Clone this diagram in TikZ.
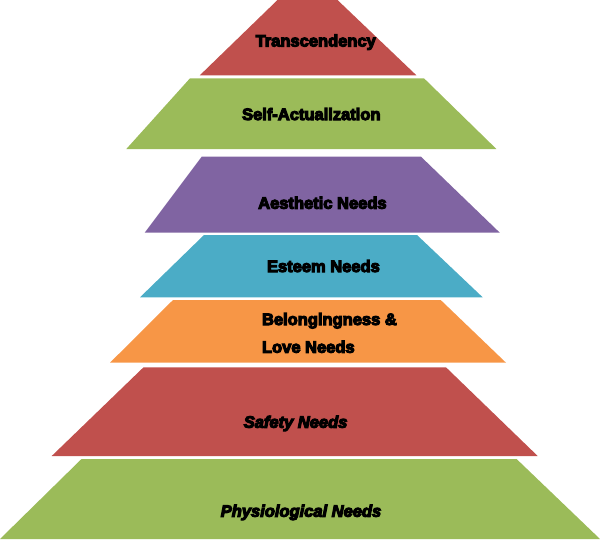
\documentclass[tikz,border=0pt]{standalone}
\usepackage{fontspec}
\usepackage{xcolor}
\usepackage{tikz}
\usetikzlibrary{positioning}
\newfontfamily\tierfont{Liberation Sans Bold}[ItalicFont={Liberation Sans Bold Italic}]
% thicken glyphs: fill and stroke the text
\newcommand\heavytext[1]{\special{pdf:literal direct 2 Tr 1.1 w}#1\special{pdf:literal direct 0 Tr}}
\definecolor{tierred}{HTML}{C0504D}
\definecolor{tiergreen}{HTML}{9BBB59}
\definecolor{tierpurple}{HTML}{8064A2}
\definecolor{tierteal}{HTML}{4BACC6}
\definecolor{tierorange}{HTML}{F79646}
\tikzset{
  tierlabel/.style={font=\tierfont\fontsize{16.5}{27.7}\selectfont, text=black, inner sep=0pt, anchor=base},
  tierlabelit/.style={tierlabel, font=\tierfont\fontsize{16.5}{27.7}\selectfont\itshape}
}

\begin{document}
\begin{tikzpicture}[x=1pt, y=-1pt]
  \useasboundingbox (0,0) rectangle (600,539);
  % tiers, top to bottom
  \fill[tierred]    (277.5,0)   -- (337.5,0)   -- (416.4,75.3) -- (199.8,75.3) -- cycle;
  \fill[tiergreen]  (190,78.3)  -- (424,78.3)  -- (496.4,149)  -- (126.3,149)  -- cycle;
  \fill[tierpurple] (201.7,156.7) -- (421,156.7) -- (499.8,232.7) -- (144.7,232.7) -- cycle;
  \fill[tierteal]   (204,235)   -- (417,235)   -- (482.7,297.3) -- (140,297.3)  -- cycle;
  \fill[tierorange] (173,300)   -- (440.7,300) -- (506,362.7)  -- (110,362.7)  -- cycle;
  \fill[tierred]    (143.5,367.3) -- (446,367.3) -- (537.7,456) -- (51.7,456)   -- cycle;
  \fill[tiergreen]  (81.5,459)  -- (516.6,459) -- (600,539)    -- (0,539)      -- cycle;

  \node[tierlabel] (transcendency) at (315.7,46.5) {\heavytext{Transcendency}};
  \node[tierlabel] (selfactual) at (311.3,120) {\heavytext{Self-Actualization}};
  \node[tierlabel] (aesthetic) at (322.4,208.7) {\heavytext{Aesthetic Needs}};
  \node[tierlabel] (esteem) at (323.4,272) {\heavytext{Esteem Needs}};
  \node[tierlabel, anchor=base west, align=left] (belonging) at (261.8,352.7) {\heavytext{Belongingness \&}\\\heavytext{Love Needs}};
  \node[tierlabelit] (safety) at (295.6,427.7) {\heavytext{Safety Needs}};
  \node[tierlabelit] (physio) at (301,516.7) {\heavytext{Physiological Needs}};
\end{tikzpicture}
\end{document}
